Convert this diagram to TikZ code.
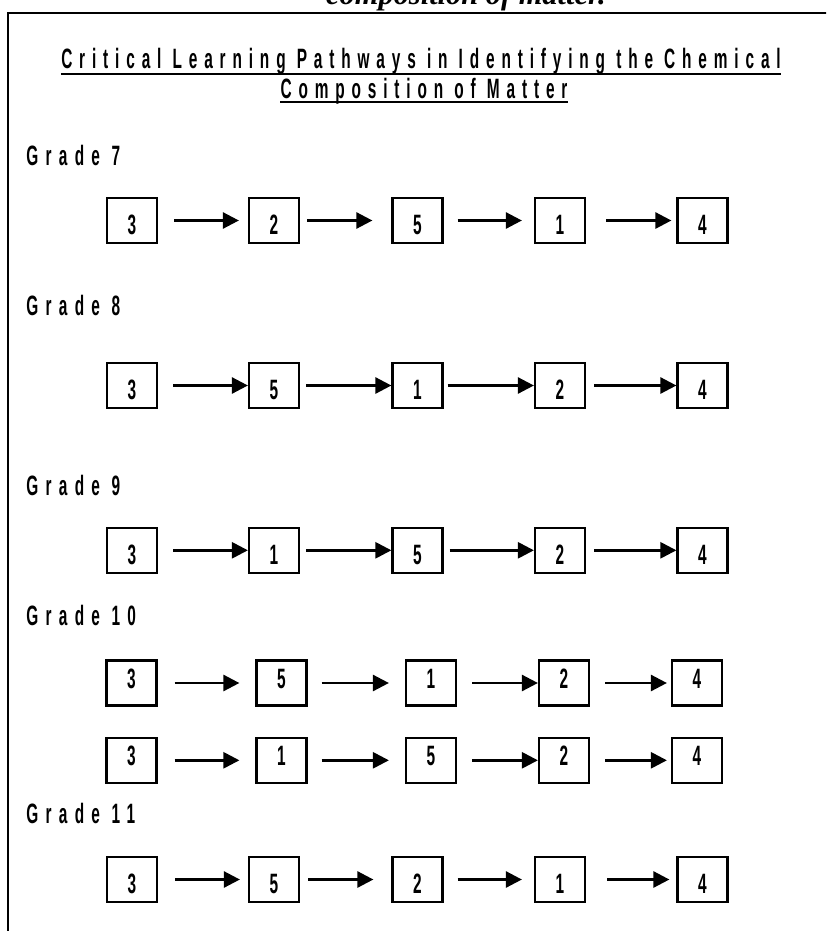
\documentclass[tikz,border=0pt]{standalone}
\usepackage{fontspec}
\setmainfont{Liberation Sans}
\newfontfamily\narrowfont{Liberation Sans}[FakeStretch=0.55,LetterSpace=26]
\newfontfamily\titlefont{Liberation Sans}[FakeStretch=0.55,LetterSpace=24.5]
\newfontfamily\digitfont{Liberation Sans}[FakeStretch=0.55]
\newfontfamily\capfont{Liberation Serif}
\usetikzlibrary{arrows.meta}

\begin{document}
\begin{tikzpicture}[
            x=0.5pt, y=-0.5pt,
            numbox/.style={
                draw,
                line width=1.1pt,
                minimum width=25pt,
                minimum height=22.5pt,
                inner sep=0pt,
                text height=14pt,
                text depth=0pt,
                font=\digitfont\bfseries\fontsize{14}{16}\selectfont
            },
            upnum/.style={text height=10pt, text depth=5pt},
            flow/.style={
                -{Triangle[length=8pt,width=8pt]},
                line width=1.3pt
            },
            grade/.style={
                anchor=west,
                inner sep=0pt,
                font=\narrowfont\bfseries\fontsize{14}{16}\selectfont
            },
            heading/.style={
                anchor=base,
                inner sep=0pt,
                font=\titlefont\bfseries\fontsize{14}{16}\selectfont
            }
        ]

            \useasboundingbox (0,0) rectangle (826,931);
            \clip (0,0) rectangle (826,931);

            \node[anchor=base, inner sep=0pt,
                font=\capfont\bfseries\itshape\fontsize{15.2}{18}\selectfont]
                (cap) at (466,5) {composition of matter.};
            \draw[line width=1.1pt] (8,960) -- (8,12.7) -- (860,12.7);

            \node[heading] (t1) at (421,69)
                {Critical Learning Pathways in Identifying the Chemical};
            \node[heading] (t2) at (424,98) {Composition of Matter};
            \draw[line width=1.1pt] ([yshift=-2.5pt]t1.base west)
                -- ([yshift=-2.5pt]t1.base east);
            \draw[line width=1.1pt] ([yshift=-2pt]t2.base west)
                -- ([yshift=-2pt]t2.base east);

            \node[grade] (g7) at (26,155) {Grade 7};
            \node[grade] (g8) at (26,305) {Grade 8};
            \node[grade] (g9) at (26,485) {Grade 9};
            \node[grade] (g10) at (26,615) {Grade 10};
            \node[grade] (g11) at (26,813) {Grade 11};

            \node[numbox] (a1) at (132, 220.5) {3};
            \node[numbox] (a2) at (274, 220.5) {2};
            \node[numbox] (a3) at (417.5, 220.5) {5};
            \node[numbox] (a4) at (560, 220.5) {1};
            \node[numbox] (a5) at (702.5, 220.5) {4};

            \draw[flow, shorten <=8pt, shorten >=4.5pt] (a1) -- (a2);
            \draw[flow, shorten <=3.5pt, shorten >=9.5pt] (a2) -- (a3);
            \draw[flow, shorten <=7pt, shorten >=6pt] (a3) -- (a4);
            \draw[flow, shorten <=10pt, shorten >=2.5pt] (a4) -- (a5);

            \node[numbox] (b1) at (132, 385.5) {3};
            \node[numbox] (b2) at (274, 385.5) {5};
            \node[numbox] (b3) at (417.5, 385.5) {1};
            \node[numbox] (b4) at (560, 385.5) {2};
            \node[numbox] (b5) at (702.5, 385.5) {4};

            \draw[flow, shorten <=7.5pt] (b1) -- (b2);
            \draw[flow, shorten <=3pt] (b2) -- (b3);
            \draw[flow, shorten <=2pt] (b3) -- (b4);
            \draw[flow, shorten <=4pt] (b4) -- (b5);

            \node[numbox] (c1) at (132, 550.3) {3};
            \node[numbox] (c2) at (274, 550.3) {1};
            \node[numbox] (c3) at (417.5, 550.3) {5};
            \node[numbox] (c4) at (560, 550.3) {2};
            \node[numbox] (c5) at (702.5, 550.3) {4};

            \draw[flow, shorten <=7.5pt] (c1) -- (c2);
            \draw[flow, shorten <=3pt] (c2) -- (c3);
            \draw[flow, shorten <=3pt] (c3) -- (c4);
            \draw[flow, shorten <=4pt] (c4) -- (c5);

            \node[numbox, upnum] (d1) at (131.5, 683) {3};
            \node[numbox, upnum] (d2) at (281.5, 683) {5};
            \node[numbox, upnum] (d3) at (431, 683) {1};
            \node[numbox, upnum] (d4) at (564, 683) {2};
            \node[numbox, upnum] (d5) at (697, 683) {4};

            \draw[flow, shorten <=8.5pt, shorten >=8pt] (d1) -- (d2);
            \draw[flow, shorten <=7pt, shorten >=8pt] (d2) -- (d3);
            \draw[flow, shorten <=7.5pt] (d3) -- (d4);
            \draw[flow, shorten <=7.5pt, shorten >=2pt] (d4) -- (d5);

            \node[numbox, upnum] (e1) at (131.5, 760.3) {3};
            \node[numbox, upnum] (e2) at (281.5, 760.3) {1};
            \node[numbox, upnum] (e3) at (431, 760.3) {5};
            \node[numbox, upnum] (e4) at (564, 760.3) {2};
            \node[numbox, upnum] (e5) at (697, 760.3) {4};

            \draw[flow, shorten <=8.5pt, shorten >=8pt] (e1) -- (e2);
            \draw[flow, shorten <=7pt, shorten >=8pt] (e2) -- (e3);
            \draw[flow, shorten <=7.5pt] (e3) -- (e4);
            \draw[flow, shorten <=7.5pt, shorten >=2pt] (e4) -- (e5);

            \node[numbox] (f1) at (132, 879.5) {3};
            \node[numbox] (f2) at (274, 879.5) {5};
            \node[numbox] (f3) at (417.5, 879.5) {2};
            \node[numbox] (f4) at (560, 879.5) {1};
            \node[numbox] (f5) at (702.5, 879.5) {4};

            \draw[flow, shorten <=8.5pt, shorten >=4pt] (f1) -- (f2);
            \draw[flow, shorten <=4pt, shorten >=9pt] (f2) -- (f3);
            \draw[flow, shorten <=7pt, shorten >=6pt] (f3) -- (f4);
            \draw[flow, shorten <=10.5pt, shorten >=3.5pt] (f4) -- (f5);

        \end{tikzpicture}
\end{document}
